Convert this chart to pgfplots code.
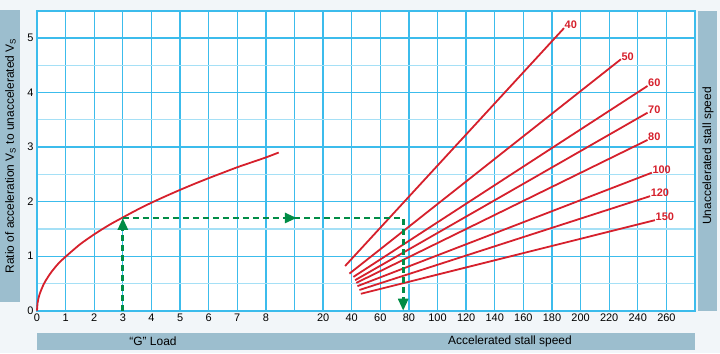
\documentclass[border=0pt]{standalone}
\usepackage{fontspec}
\setmainfont{Liberation Sans}
\usepackage{pgfplots}
\pgfplotsset{compat=1.18}
\usetikzlibrary{arrows.meta}
\definecolor{bgc}{RGB}{242,246,249}
\definecolor{boxc}{RGB}{156,190,206}
\definecolor{gridc}{RGB}{60,188,236}
\definecolor{gridm}{RGB}{165,224,246}
\definecolor{redc}{RGB}{214,32,44}
\definecolor{greenc}{RGB}{0,140,70}
\begin{document}
\begin{tikzpicture}[x=1bp,y=1bp]
\fill[bgc] (0,0) rectangle (720,353);
\fill[boxc] (0,51) rectangle (20,343);
\fill[boxc] (698,42) rectangle (717,342);
\fill[boxc] (37,3) rectangle (695,20);
\node[rotate=90, font=\fontsize{12}{14}\selectfont, inner sep=0pt] at (10.5,197) {Ratio of acceleration V\textsubscript{S} to unaccelerated V\textsubscript{S}};
\node[rotate=90, font=\fontsize{12}{14}\selectfont, inner sep=0pt] at (708,197) {Unaccelerated stall speed};
\node[font=\fontsize{12}{14}\selectfont, inner sep=0pt] at (153,11.5) {“G” Load};
\node[font=\fontsize{12}{14}\selectfont, inner sep=0pt] at (510,11.5) {Accelerated stall speed};
\begin{axis}[
  at={(37bp,42.3bp)}, anchor=south west,
  scale only axis, width=658bp, height=300bp,
  xmin=0, xmax=23, ymin=0, ymax=5.5,
  xtick={0,...,23},
  xticklabels={0,1,2,3,4,5,6,7,8,,20,40,60,80,100,120,140,160,180,200,220,240,260,},
  ytick={0,...,5},
  minor ytick={0.5,1.5,2.5,3.5,4.5},
  grid=both,
  major grid style={gridc, line width=1.3pt},
  minor grid style={gridm, line width=1.3pt},
  axis line style={gridc, line width=1.6pt},
  tick style={draw=none},
  ticklabel style={font=\fontsize{11}{12}\selectfont},
  /pgf/number format/assume math mode=true,
  axis background/.style={fill=white},
  clip=false,
]
% G load curve
\addplot[redc, line width=1.8pt, smooth] coordinates {
(0,0) (0.02,0.141) (0.05,0.224) (0.1,0.316) (0.2,0.447) (0.3,0.548) (0.5,0.707) (0.75,0.866) (1,0.99) (1.5,1.215) (2,1.40) (2.5,1.565) (3,1.71) (3.5,1.85) (4,1.98) (4.5,2.10) (5,2.215) (5.5,2.325) (6,2.43) (6.5,2.53) (7,2.63) (7.5,2.72) (8,2.81) (8.45,2.90)
};
% stall speed lines
\addplot[redc, line width=1.8pt] coordinates {(10.77,0.82) (18.42,5.18)};
\addplot[redc, line width=1.8pt] coordinates {(10.92,0.68) (20.41,4.61)};
\addplot[redc, line width=1.8pt] coordinates {(11.06,0.62) (21.34,4.12)};
\addplot[redc, line width=1.8pt] coordinates {(11.12,0.56) (21.34,3.63)};
\addplot[redc, line width=1.8pt] coordinates {(11.16,0.51) (21.34,3.13)};
\addplot[redc, line width=1.8pt] coordinates {(11.20,0.45) (21.49,2.53)};
\addplot[redc, line width=1.8pt] coordinates {(11.27,0.38) (21.43,2.10)};
\addplot[redc, line width=1.8pt] coordinates {(11.32,0.31) (21.60,1.66)};
\begin{scope}[every node/.style={anchor=west, text=redc, inner sep=0.5pt, yshift=3bp, font=\fontsize{11}{12}\selectfont\bfseries}]
\node at (axis cs:18.42,5.18) {40};
\node at (axis cs:20.41,4.61) {50};
\node at (axis cs:21.34,4.12) {60};
\node at (axis cs:21.34,3.63) {70};
\node at (axis cs:21.34,3.13) {80};
\node at (axis cs:21.49,2.53) {100};
\node at (axis cs:21.43,2.10) {120};
\node at (axis cs:21.60,1.66) {150};
\end{scope}
% green example path
\addplot[greenc, line width=2.8pt, dash pattern=on 6bp off 4bp, -{Triangle[length=12bp,width=10bp]}] coordinates {(3,0) (3,1.70)};
\addplot[greenc, line width=2.8pt, dash pattern=on 6bp off 4bp, -{Triangle[length=12bp,width=10bp]}] coordinates {(3,1.70) (9.08,1.70)};
\addplot[greenc, line width=2.8pt, dash pattern=on 6bp off 4bp] coordinates {(9.0,1.70) (12.80,1.70) (12.80,0.8)};
\addplot[greenc, line width=2.8pt, dash pattern=on 6bp off 4bp, -{Triangle[length=12bp,width=10bp]}] coordinates {(12.80,0.8) (12.80,0.0)};
\end{axis}
\end{tikzpicture}
\end{document}
